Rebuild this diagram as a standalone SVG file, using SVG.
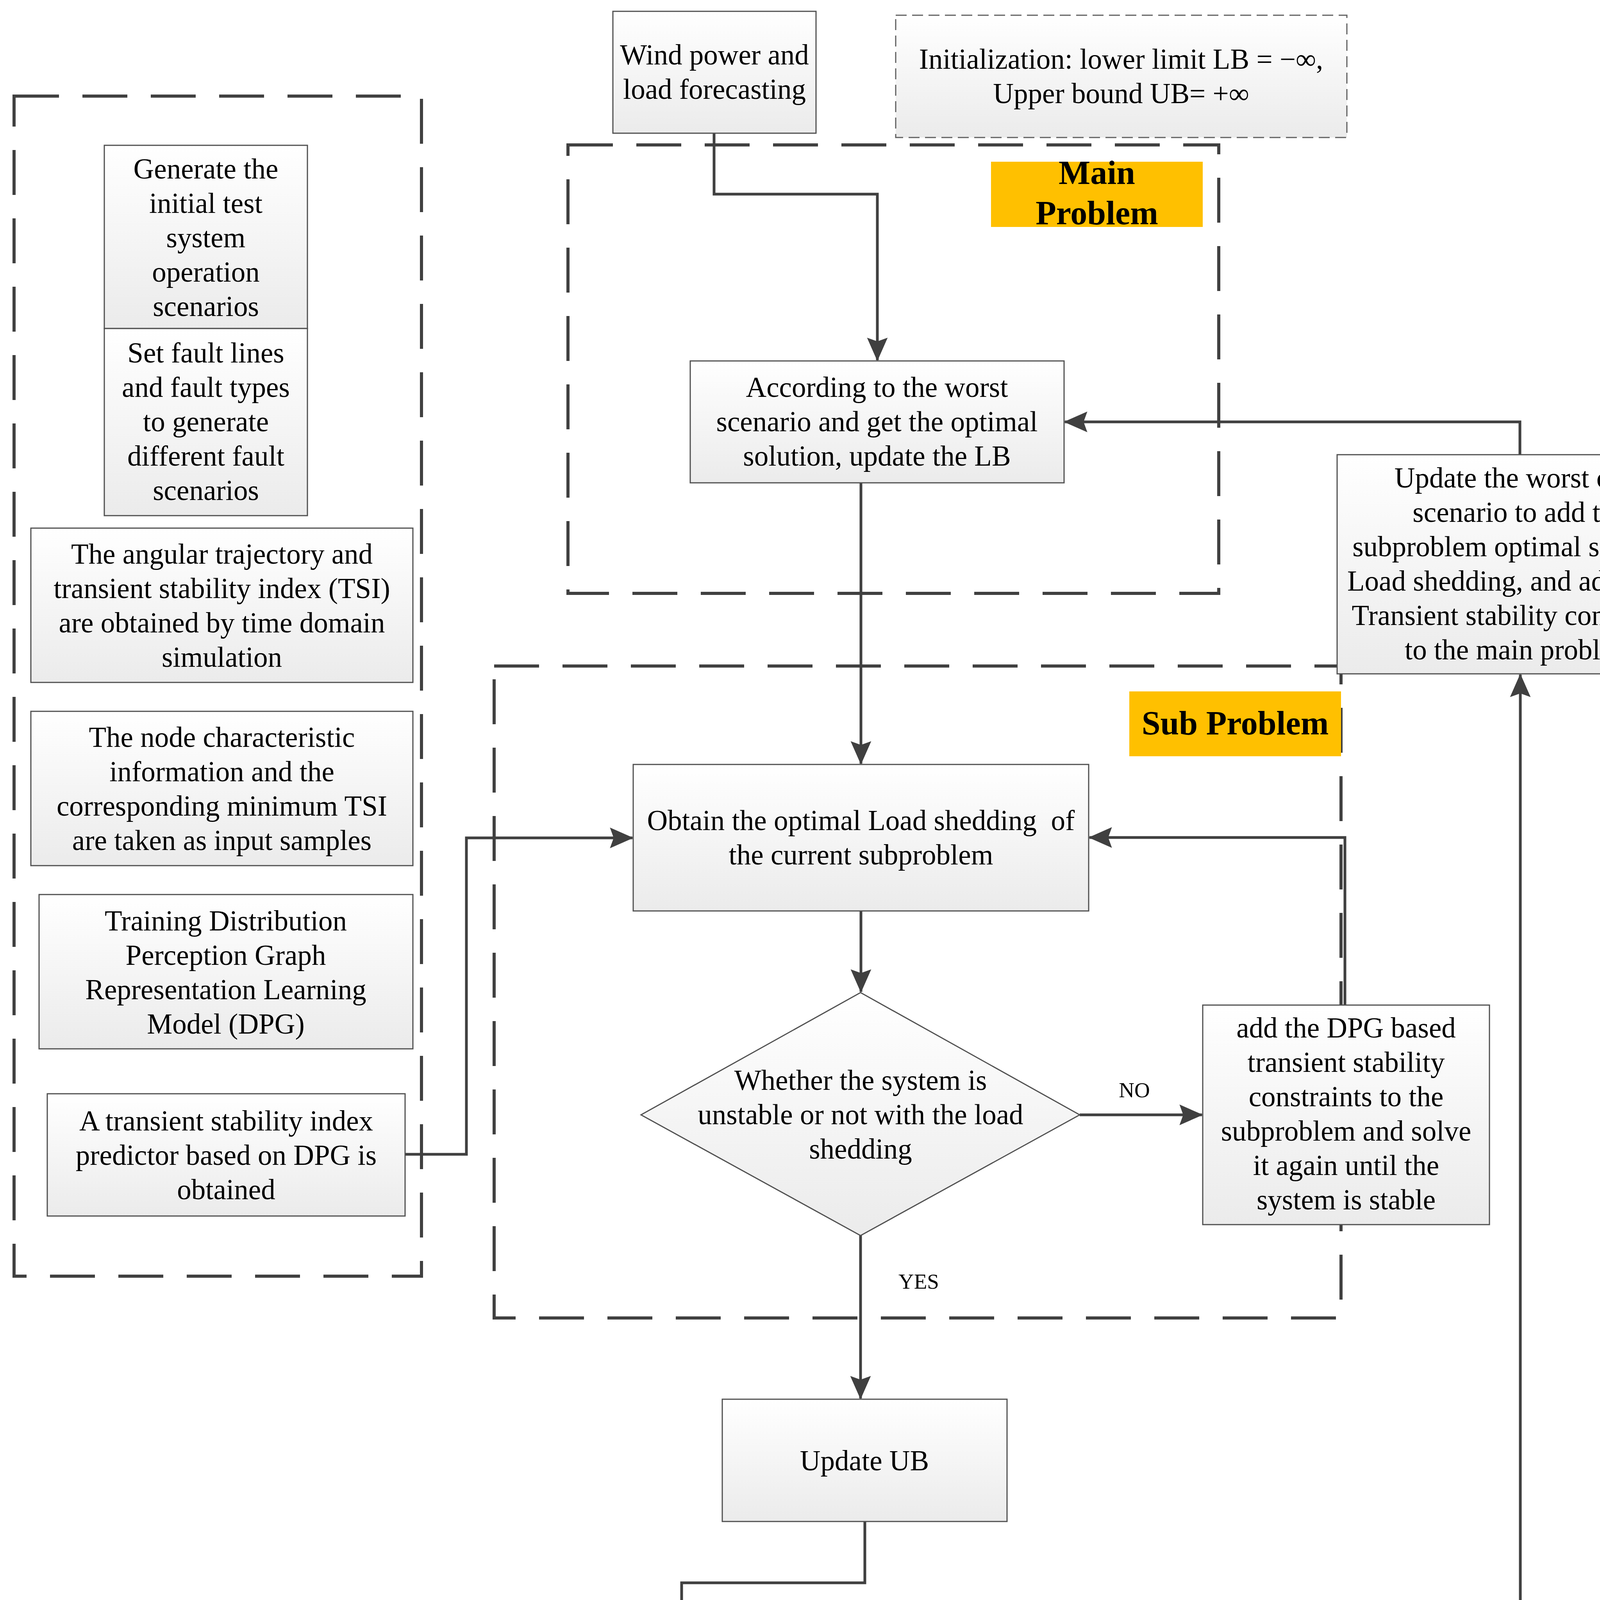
<svg xmlns="http://www.w3.org/2000/svg" width="4399" height="5180" viewBox="0 0 4399 5180">
<defs>
<linearGradient id="g" x1="0" y1="0" x2="0" y2="1">
<stop offset="0" stop-color="#ffffff"/>
<stop offset="1" stop-color="#ebebeb"/>
</linearGradient>
<marker id="arr" markerUnits="userSpaceOnUse" markerWidth="60" markerHeight="60" viewBox="0 0 50 44" refX="48" refY="22" orient="auto">
<path d="M0,0 L50,22 L0,44 L8,22 z" fill="#404040"/>
</marker>
<style>
.box{fill:url(#g);stroke:#505050;stroke-width:3}
.grp{fill:none;stroke:#404040;stroke-width:8;stroke-dasharray:115 60}
.con{fill:none;stroke:#404040;stroke-width:7}
.t{font-family:"Liberation Serif","Times New Roman",serif;font-size:73px;fill:#000;text-anchor:middle}
.lbl{font-family:"Liberation Serif","Times New Roman",serif;font-size:55px;fill:#000;text-anchor:middle}
.tb{font-family:"Liberation Serif","Times New Roman",serif;font-size:86px;font-weight:bold;fill:#000;text-anchor:middle}
.m{font-family:"Liberation Serif","Times New Roman",serif;font-size:84px;fill:#000;text-anchor:middle}
.i{font-style:italic}
</style>
</defs>
<rect width="4399" height="5180" fill="#ffffff"/>

<g id="groups">
<rect class="grp" x="36" y="246" width="1043" height="3021"/>
<rect class="grp" x="1454" y="371" width="1666" height="1148"/>
<rect class="grp" x="1265" y="1705" width="2168" height="1669"/>
</g>

<g id="connectors">
<path class="con" d="M1828,341 V497 H2246 V922" marker-end="url(#arr)"/>
<path class="con" d="M2204,1236 V1955" marker-end="url(#arr)"/>
<path class="con" d="M1037,2955 H1194 V2145 H1619" marker-end="url(#arr)"/>
<path class="con" d="M2204,2332 V2539" marker-end="url(#arr)"/>
<path class="con" d="M2764,2854 H3077" marker-end="url(#arr)"/>
<path class="con" d="M3443,2573 V2144 H2789" marker-end="url(#arr)"/>
<path class="con" d="M2203,3163 V3580" marker-end="url(#arr)"/>
<path class="con" d="M2214,3895 V4052 H1745 V4185" marker-end="url(#arr)"/>
<path class="con" d="M2243,4405 H2557" marker-end="url(#arr)"/>
<path class="con" d="M1745,4623 V4832" marker-end="url(#arr)"/>
<path class="con" d="M3496,4405 H3892 V1727" marker-end="url(#arr)"/>
<path class="con" d="M3891,1164 V1080 H2726" marker-end="url(#arr)"/>
<text class="lbl" x="2904" y="2809">NO</text>
<text class="lbl" x="2352" y="3299">YES</text>
<text class="lbl" x="2374" y="4350">NO</text>
<text class="lbl" x="1637" y="4775">YES</text>
</g>

<g id="wind">
<rect class="box" x="1569" y="29" width="520" height="312"/>
<text class="t" x="1829" y="165">Wind power and</text>
<text class="t" x="1829" y="253">load forecasting</text>
</g>

<g id="init">
<rect x="2293" y="39" width="1155" height="313" fill="url(#g)" stroke="#606060" stroke-width="3" stroke-dasharray="28 14"/>
<text class="t" x="2870" y="176">Initialization: lower limit LB = −∞,</text>
<text class="t" x="2870" y="264">Upper bound UB= +∞</text>
</g>

<g id="mainlabel">
<rect x="2537" y="414" width="542" height="167" fill="#ffc000"/>
<text class="tb" x="2808" y="471">Main</text>
<text class="tb" x="2808" y="574">Problem</text>
</g>

<g id="generate">
<rect class="box" x="267" y="372" width="520" height="469"/>
<text class="t" x="527" y="457">Generate the</text>
<text class="t" x="527" y="545">initial test</text>
<text class="t" x="527" y="633">system</text>
<text class="t" x="527" y="721">operation</text>
<text class="t" x="527" y="809">scenarios</text>
</g>

<g id="setfault">
<rect class="box" x="267" y="841" width="520" height="479"/>
<text class="t" x="527" y="928">Set fault lines</text>
<text class="t" x="527" y="1016">and fault types</text>
<text class="t" x="527" y="1104">to generate</text>
<text class="t" x="527" y="1192">different fault</text>
<text class="t" x="527" y="1280">scenarios</text>
</g>

<g id="angular">
<rect class="box" x="79" y="1352" width="978" height="395"/>
<text class="t" x="568" y="1443">The angular trajectory and</text>
<text class="t" x="568" y="1531">transient stability index (TSI)</text>
<text class="t" x="568" y="1619">are obtained by time domain</text>
<text class="t" x="568" y="1707">simulation</text>
</g>

<g id="node">
<rect class="box" x="79" y="1821" width="978" height="395"/>
<text class="t" x="568" y="1912">The node characteristic</text>
<text class="t" x="568" y="2000">information and the</text>
<text class="t" x="568" y="2088">corresponding minimum TSI</text>
<text class="t" x="568" y="2176">are taken as input samples</text>
</g>

<g id="training">
<rect class="box" x="100" y="2290" width="957" height="395"/>
<text class="t" x="578" y="2382">Training Distribution</text>
<text class="t" x="578" y="2470">Perception Graph</text>
<text class="t" x="578" y="2558">Representation Learning</text>
<text class="t" x="578" y="2646">Model (DPG)</text>
</g>

<g id="predictor">
<rect class="box" x="121" y="2800" width="916" height="313"/>
<text class="t" x="579" y="2894">A transient stability index</text>
<text class="t" x="579" y="2982">predictor based on DPG is</text>
<text class="t" x="579" y="3070">obtained</text>
</g>

<g id="according">
<rect class="box" x="1767" y="924" width="957" height="312"/>
<text class="t" x="2245" y="1016">According to the worst</text>
<text class="t" x="2245" y="1104">scenario and get the optimal</text>
<text class="t" x="2245" y="1192">solution, update the LB</text>
</g>

<g id="worst">
<rect class="box" x="3423" y="1164" width="937" height="561"/>
<text class="t" x="3891" y="1248">Update the worst case</text>
<text class="t" x="3891" y="1336">scenario to add the</text>
<text class="t" x="3891" y="1424">subproblem optimal solution,</text>
<text class="t" x="3891" y="1512">Load shedding, and additional</text>
<text class="t" x="3891" y="1600">Transient stability constraints</text>
<text class="t" x="3891" y="1688">to the main problem</text>
</g>

<g id="sublabel">
<rect x="2891" y="1770" width="542" height="166" fill="#ffc000"/>
<text class="tb" x="3162" y="1880">Sub Problem</text>
</g>

<g id="obtain">
<rect class="box" x="1621" y="1957" width="1166" height="375"/>
<text class="t" x="2204" y="2125" xml:space="preserve">Obtain the optimal Load shedding  of</text>
<text class="t" x="2204" y="2213">the current subproblem</text>
</g>

<g id="decision1">
<polygon class="box" points="2203,2541 2764,2854 2203,3163 1641,2854"/>
<text class="t" x="2203" y="2790">Whether the system is</text>
<text class="t" x="2203" y="2878">unstable or not with the load</text>
<text class="t" x="2203" y="2966">shedding</text>
</g>

<g id="dpg">
<rect class="box" x="3079" y="2573" width="734" height="562"/>
<text class="t" x="3446" y="2656">add the DPG based</text>
<text class="t" x="3446" y="2744">transient stability</text>
<text class="t" x="3446" y="2832">constraints to the</text>
<text class="t" x="3446" y="2920">subproblem and solve</text>
<text class="t" x="3446" y="3008">it again until the</text>
<text class="t" x="3446" y="3096">system is stable</text>
</g>

<g id="updateub">
<rect class="box" x="1849" y="3582" width="729" height="313"/>
<text class="t" x="2213" y="3764">Update UB</text>
</g>

<g id="decision2">
<polygon class="box" points="1745,4187 2243,4405 1745,4623 1247,4405"/>
<text class="m" x="1745" y="4428" textLength="663" lengthAdjust="spacing"><tspan class="i">Gap</tspan> = <tspan class="i">UB</tspan> − <tspan class="i">LB</tspan> ≤ <tspan class="i">ε</tspan></text>
</g>

<g id="increment">
<rect class="box" x="2559" y="4249" width="937" height="313"/>
<text class="m" x="2973" y="4432" textLength="241" lengthAdjust="spacing"><tspan class="i">i</tspan> = <tspan class="i">i</tspan> + 1</text>
</g>

<g id="terminate">
<rect class="box" x="1476" y="4834" width="518" height="311"/>
<text class="t" x="1735" y="4927">Terminates the</text>
<text class="t" x="1735" y="5015">loop and output</text>
<text class="t" x="1735" y="5103">the result</text>
</g>
</svg>
